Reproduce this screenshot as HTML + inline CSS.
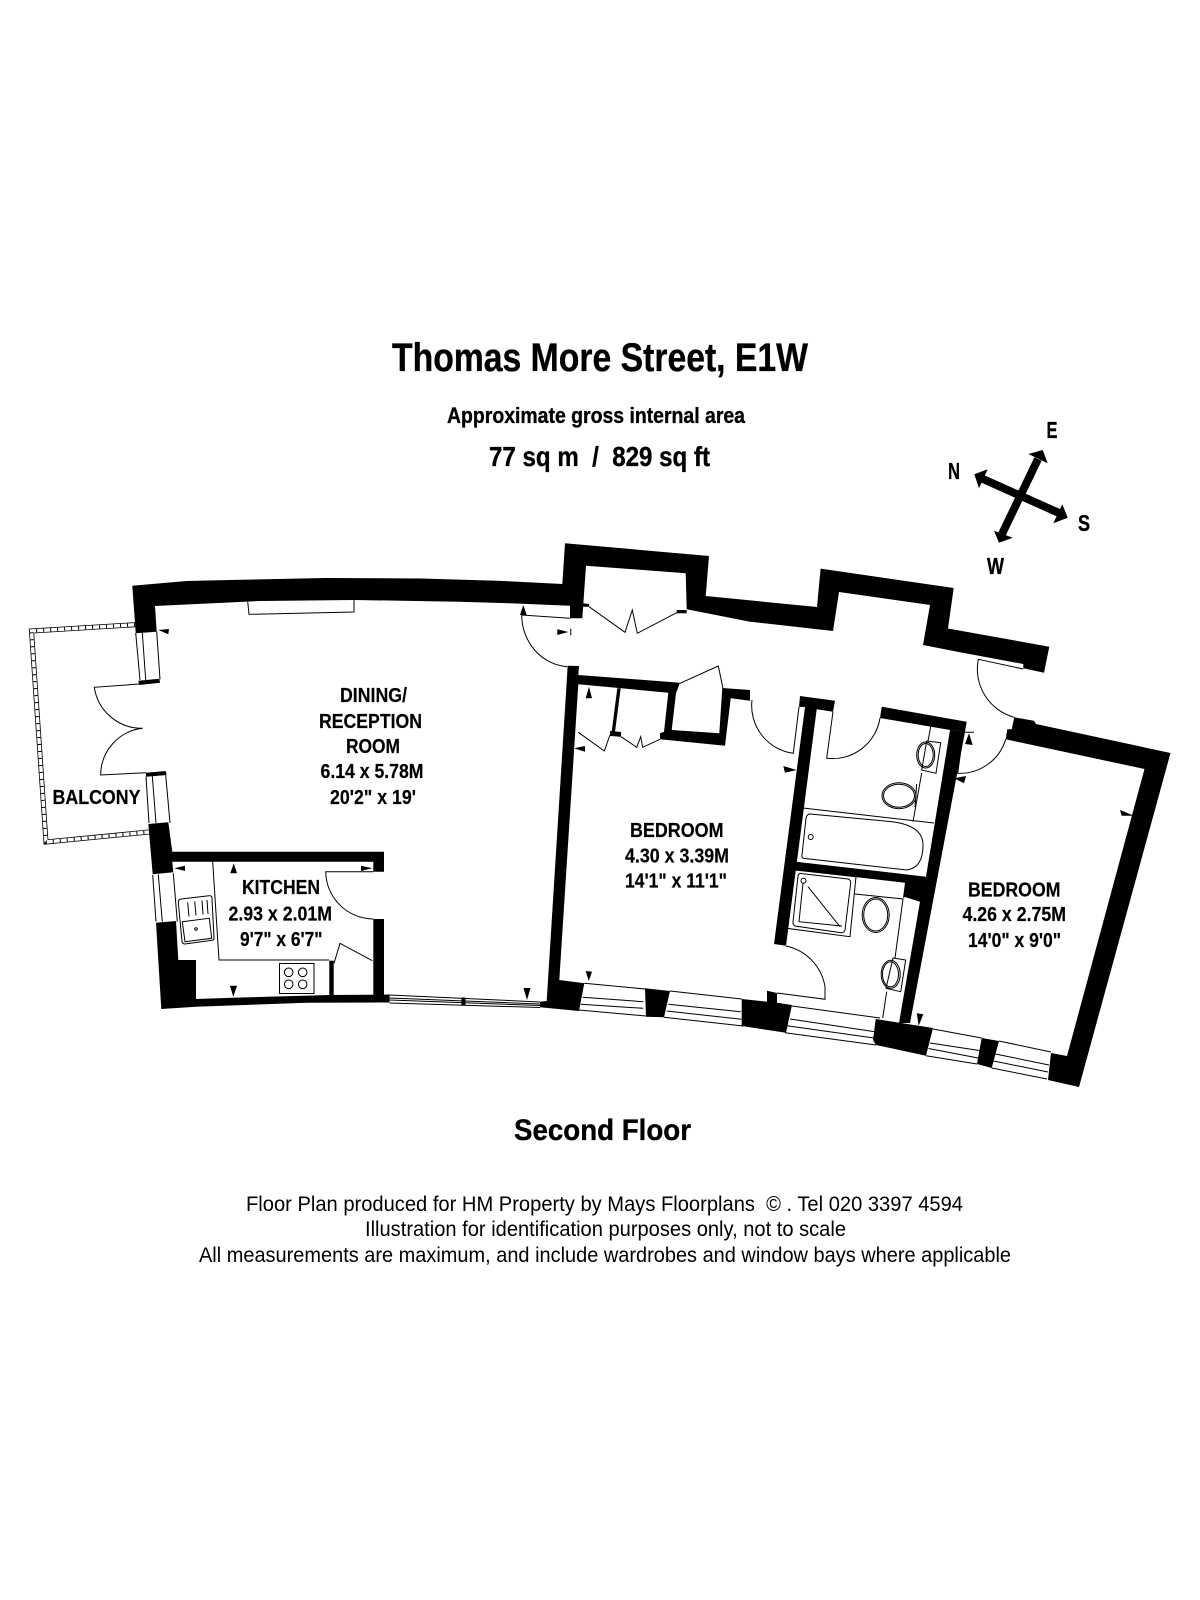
<!DOCTYPE html>
<html><head><meta charset="utf-8"><title>Thomas More Street, E1W</title>
<style>html,body{margin:0;padding:0;background:#fff}svg{display:block}
text{font-family:"Liberation Sans",Arial,sans-serif;fill:#000}
.b{font-weight:bold;stroke:#000;stroke-width:.35px}.r{font-size:20px;font-weight:bold;stroke:#000;stroke-width:.2px}</style></head>
<body>
<svg xmlns="http://www.w3.org/2000/svg" width="1200" height="1600" viewBox="0 0 1200 1600">
<rect width="1200" height="1600" fill="#fff"/>
<text class="b" x="392" y="371" font-size="40" textLength="416" lengthAdjust="spacingAndGlyphs">Thomas More Street, E1W</text>
<text class="b" x="447" y="423" font-size="22" textLength="298" lengthAdjust="spacingAndGlyphs">Approximate gross internal area</text>
<text class="b" x="489" y="466" font-size="28" textLength="221" lengthAdjust="spacingAndGlyphs" xml:space="preserve">77 sq m  /  829 sq ft</text>
<text class="b" x="514" y="1140" font-size="30" textLength="177" lengthAdjust="spacingAndGlyphs">Second Floor</text>
<text x="246" y="1211" font-size="21" textLength="717" lengthAdjust="spacingAndGlyphs" xml:space="preserve">Floor Plan produced for HM Property by Mays Floorplans  © . Tel 020 3397 4594</text>
<text x="365" y="1236" font-size="21" textLength="481" lengthAdjust="spacingAndGlyphs">Illustration for identification purposes only, not to scale</text>
<text x="199" y="1262" font-size="21" textLength="812" lengthAdjust="spacingAndGlyphs">All measurements are maximum, and include wardrobes and window bays where applicable</text>

<!-- compass -->
<g fill="#000">
<line x1="1038" y1="459" x2="1002" y2="534" stroke="#000" stroke-width="8"/>
<line x1="983" y1="479" x2="1059" y2="513" stroke="#000" stroke-width="8"/>
<polygon points="1028.3,454 1042.7,450 1047.7,463.3"/>
<polygon points="994,530.7 999,542.7 1012.7,537.7"/>
<polygon points="987.7,469.3 974.3,474.3 979,488.3"/>
<polygon points="1062.3,504.3 1067.7,517.7 1053.3,523.3"/>
</g>
<text class="b" x="1046.5" y="438" font-size="23" textLength="11" lengthAdjust="spacingAndGlyphs">E</text>
<text class="b" x="948" y="479" font-size="23" textLength="12" lengthAdjust="spacingAndGlyphs">N</text>
<text class="b" x="1078" y="531" font-size="23" textLength="12" lengthAdjust="spacingAndGlyphs">S</text>
<text class="b" x="987" y="574" font-size="23" textLength="17" lengthAdjust="spacingAndGlyphs">W</text>

<!-- balcony -->
<polyline points="135,624.7 31.5,631 46,842 149,832" fill="none" stroke="#000" stroke-width="5"/>
<polyline points="135,624.7 31.5,631 46,842 149,832" fill="none" stroke="#fff" stroke-width="3.4"/>
<polyline points="135,624.7 31.5,631 46,842 149,832" fill="none" stroke="#000" stroke-width="3.4" stroke-dasharray="1 6"/>

<!-- thin lines -->
<g fill="none" stroke="#000" stroke-width="1">
<polyline points="247.7,601.7 249,614.3 354,612 354,600"/>
<path d="M135.7,633L140,680M142.3,632.7L145.7,680M156.7,631.7L160,679.3M146,776.7L149,823M152.3,776L156,823M165.7,775L170,823"/>
<path d="M152.7,875L156,921.7M158.3,874.3L162.3,921.7M173.3,873.3L177.3,921.7"/>
<path d="M139.3,684L94.3,687.3A48,48 0 0 0 142.7,728.3A47,47 0 0 0 100.7,775L146,772.7"/>
<path d="M570,618.3L521.7,615A49,52 0 0 0 567.3,666.7"/>
<polyline points="589,606.7 625,632.3 632.3,610 637.3,633.3 676.7,612.7"/>
<polyline points="578.3,732.3 604.3,751 610,735"/>
<polyline points="621,736.7 636.7,747.3 640.7,736.7 642.7,747.3 660,739.3"/>
<polyline points="680,683.3 718.3,666 723.3,690"/>
<path d="M752,700A48,48 0 0 0 793.3,753.3L799,706.7"/>
<path d="M833,711.7L826.7,758.3A48,48 0 0 0 880,718"/>
<path d="M786,946A50,50 0 0 1 825,986.7V999.3L777,993"/>
<path d="M1023.3,669L978.3,659.3A50,50 0 0 0 1014.3,717.3"/>
<path d="M1005.7,739.3A48,48 0 0 1 957.7,773.3L963.3,732.3H974"/>
<!-- kitchen -->
<polyline points="212.7,861.7 219,960 329.3,960"/>
<path d="M373.3,871.7H325.7A48,48 0 0 0 373.3,919"/>
<polyline points="334,963.3 340,943.3 372.3,960.7"/>
<rect x="279.5" y="963.5" width="34.5" height="30"/>
<circle cx="288.7" cy="972.3" r="4.3"/><circle cx="302.7" cy="972.3" r="4.3"/><circle cx="288.7" cy="984.3" r="4.3"/><circle cx="302.7" cy="984.3" r="4.3"/>
<path d="M181,899L209,895.7Q212,895.5 212,898.5L214,938Q214,940 212,940.3L185,944Q182.5,944 182,941.5L178.3,902Q178.3,899.5 181,899Z"/>
<path d="M182.3,921.7L209.3,918.3L211.7,938.3L185,941.7Z"/>
<path d="M187.7,902.5L189,916.5M194.7,901.5L196,915.5M202,900.5L203,914.5M207,900L208,914"/>
<circle cx="196" cy="929" r="1.3"/>
<!-- lounge south window -->
<path d="M389.6,995L540,1002M389.6,998L540,1004M389.6,1000L540,1005.5M389.6,1003L540,1007.5"/>
<!-- south windows -->
<path d="M584.3,983.3L645,989M582.7,997.3L643.3,1001.7M580.7,1004.3L643.3,1008.3M579,1010L646,1016"/>
<path d="M670,991L741.7,999M668.3,1004.3L740.7,1011.7M666.7,1011L741.7,1019.3M664,1017.3L743.3,1026"/>
<path d="M792,1006L880,1018M790,1019L875,1031.7M787,1025.7L874,1038M785,1032.7L876,1045"/>
<path d="M933,1029L981.7,1038M930,1043L979.4,1050.5M928.5,1048.5L978.2,1058M926,1055.7L977,1064"/>
<path d="M999,1041L1051,1052M995.5,1054L1049,1065M993.6,1061L1048,1072M991.7,1068L1047,1079"/>
<!-- bathroom -->
<path d="M930.7,726.7L928,741M921.7,773L913,821.7"/>
<polygon points="926.7,741 940.7,742.7 936,773.3 921.7,770"/>
<ellipse cx="925.7" cy="755" rx="9" ry="13"/><ellipse cx="925.7" cy="755" rx="7.5" ry="11.5"/>
<ellipse cx="899" cy="795.7" rx="17" ry="13" stroke-width="1"/><ellipse cx="899" cy="795.7" rx="15.5" ry="11.5"/>
<path d="M916.7,784L915,807"/>
<path d="M803,808L934,823"/>
<path d="M810,814L890,821.5Q923,825 923,845Q923,868 906.7,870L803,858.3Q801.5,857 802,855L806,818Q807,814 810,814Z"/>
<circle cx="810.7" cy="837" r="2.5"/>
<!-- shower -->
<polygon points="795,870 856,876.7 850,936.7 786.7,928.3"/>
<path d="M801,873.5L848,879Q851,880 850.7,883L845,930Q844,933 841,932.7L795,926Q792.7,925 793,922L798,876Q798.5,873 801,873.5Z"/>
<path d="M803,883L799,921.7L842,926M808,886.7L840,926.7"/>
<circle cx="803.5" cy="880.7" r="2.5"/>
<path d="M855,894L903,899L895,958"/>
<ellipse cx="875.7" cy="915" rx="13.5" ry="17.5"/><ellipse cx="875.7" cy="915" rx="12" ry="16"/>
<polygon points="893,958 905.7,960 900.7,991.7 886,988.3"/>
<ellipse cx="890.7" cy="974.3" rx="9.5" ry="14"/><ellipse cx="890.5" cy="974.3" rx="8" ry="12.5"/>
<path d="M886.7,991.7L882.7,1018"/>
</g>

<!-- walls -->
<g fill="#000">
<polygon points="132.3,585.7 186.7,581 229.6,580 325,578 421,578.5 497,580.7 562.3,584 565,543.3 709,556 705.7,596 817,607 820.6,568.6 953.7,588 948,628.5 1049.3,646.7 1044,672.7 1023.3,668.3 1023.3,664 960,652.3 923,645 930,605 839,592 833,631 750,621.7 686.7,609.3 685.7,573.3 586,565.7 582.3,618.3 570,618.3 570,605.7 510,603.3 459,601.7 354,600 260,601 155,606 156.7,631.7 135.7,633.3 135,622.7"/>
<polygon points="138.3,680.7 159.3,678.7 160,682.7 139.3,685"/>
<polygon points="146,772.7 165.7,771 166.7,775 146,776.7"/>
<polygon points="148.3,824 168.3,822.3 172.3,851.7 384,851.7 384,871.7 373.3,871.7 373.3,861.7 172.3,861.7 173.3,872.3 152.7,874.3"/>
<polygon points="156,922.7 176,921 178.3,960 196,960 196,999 233,997.7 330,995 389.6,994.5 389.6,1002.5 306.7,1002.7 196,1006.7 161.3,1009"/>
<polygon points="373.3,919 384,919 384,996 373.3,996"/>
<polygon points="329.3,960.7 333.7,960.7 333.7,998 329.3,998"/>
<rect x="461.5" y="997.5" width="4" height="8"/>
<!-- bedroom 1 wall -->
<polygon points="567.7,665.7 579,666 578.3,675 680,682.7 676,693.3 671.7,730 719.3,733.3 722.3,688 750,690 750,700.7 730.7,698.3 725,745.7 660,739.3 660,733.3 664,731.7 668.3,692.7 578.3,684.3 559.3,980 584.3,983.3 579,1011 540,1007.3 540,1001.7 546.7,1001"/>
<polygon points="617.3,688.3 620.7,688.3 615,731.7 611.7,731.7"/>
<polygon points="610,731 621,732 621,736.7 610,736"/>
<polygon points="582.7,603.3 589,604 589,606.7 582.7,606.7"/>
<polygon points="676.7,610 686.7,610 686.7,613.3 676.7,613.3"/>
<polygon points="645,988.3 670,991 664,1017.3 646,1016.7"/>
<polygon points="767,990.7 777,993 777,1002.7 792,1005 786,1032.7 741.7,1026 741.7,999 767,1001.7"/>
<polygon points="875.7,1019 933,1028 926,1055.7 876,1045 873,1040"/>
<polygon points="981.7,1038 999,1041 991.7,1068 977,1064"/>
<!-- bathroom walls -->
<polygon points="800,696 835,700.7 833,711.7 816.7,709.3 786,945.7 774,944 805,707 799,706.7"/>
<polygon points="881.7,706.7 966.7,721.7 965,731.7 950,730 880,718"/>
<polygon points="950,730 965,731.7 910,1023 899,1023 920,901.7 905,897 903,898 905,882.7 794,870 796,861.7 926,876.7"/>
<!-- bedroom 2 wall -->
<polygon points="1014.3,717.3 1034,720.7 1036,724 1170.5,753 1079,1087 1048,1080 1051,1053 1067,1056 1144.5,769 1005.7,739.3 1007.3,729.3 1011.7,729.3"/>
<!-- arrow marks -->
<polygon points="158.3,630 169,629 168.3,634.3"/>
<path d="M557.3,629.3V635L568.3,632ZM570.3,628.7h1v6.6h-1Z"/>
<polygon points="523.3,605 520,615 526.7,615"/>
<polygon points="174.3,868.3 185,865.7 185,871"/>
<polygon points="233.7,863.3 230.3,873.3 237,873.3"/>
<polygon points="372.3,868.3 361,865.7 361,871"/>
<polygon points="233.3,996.7 230,985.7 237,985.7"/>
<polygon points="527,1000 523.5,988 530.5,988"/>
<polygon points="589,686.7 585.7,698.3 592,698.3"/>
<polygon points="574,748.3 585,746 585,751.7"/>
<polygon points="585.7,971 592,971.7 588.7,981"/>
<polygon points="783.3,766 796.7,770 785,772.7"/>
<polygon points="954,778.3 966,776 964,783.3"/>
<polygon points="969,733.3 972.7,745 965,744"/>
<polygon points="1120,810 1134,815.7 1121.7,815.7"/>
<polygon points="916.7,1013.3 923.3,1014.3 918.7,1025.7"/>
</g>

<!-- labels -->
<text class="r" x="340" y="702" textLength="67" lengthAdjust="spacingAndGlyphs">DINING/</text>
<text class="r" x="319" y="728" textLength="103" lengthAdjust="spacingAndGlyphs">RECEPTION</text>
<text class="r" x="346" y="753" textLength="54" lengthAdjust="spacingAndGlyphs">ROOM</text>
<text class="r" x="320.5" y="778" textLength="103" lengthAdjust="spacingAndGlyphs">6.14 x 5.78M</text>
<text class="r" x="330" y="804" textLength="86" lengthAdjust="spacingAndGlyphs">20'2" x 19'</text>
<text class="r" x="52.5" y="804" textLength="88" lengthAdjust="spacingAndGlyphs">BALCONY</text>
<text class="r" x="242" y="894" textLength="78" lengthAdjust="spacingAndGlyphs">KITCHEN</text>
<text class="r" x="228.5" y="920.5" textLength="103.5" lengthAdjust="spacingAndGlyphs">2.93 x 2.01M</text>
<text class="r" x="240" y="946" textLength="82.5" lengthAdjust="spacingAndGlyphs">9'7" x 6'7"</text>
<text class="r" x="630" y="837" textLength="93.5" lengthAdjust="spacingAndGlyphs">BEDROOM</text>
<text class="r" x="625" y="862.5" textLength="104" lengthAdjust="spacingAndGlyphs">4.30 x 3.39M</text>
<text class="r" x="625" y="887.5" textLength="102" lengthAdjust="spacingAndGlyphs">14'1" x 11'1"</text>
<text class="r" x="968" y="896.5" textLength="92.5" lengthAdjust="spacingAndGlyphs">BEDROOM</text>
<text class="r" x="962.5" y="921" textLength="103.5" lengthAdjust="spacingAndGlyphs">4.26 x 2.75M</text>
<text class="r" x="968" y="947" textLength="93" lengthAdjust="spacingAndGlyphs">14'0" x 9'0"</text>
</svg>
</body></html>
